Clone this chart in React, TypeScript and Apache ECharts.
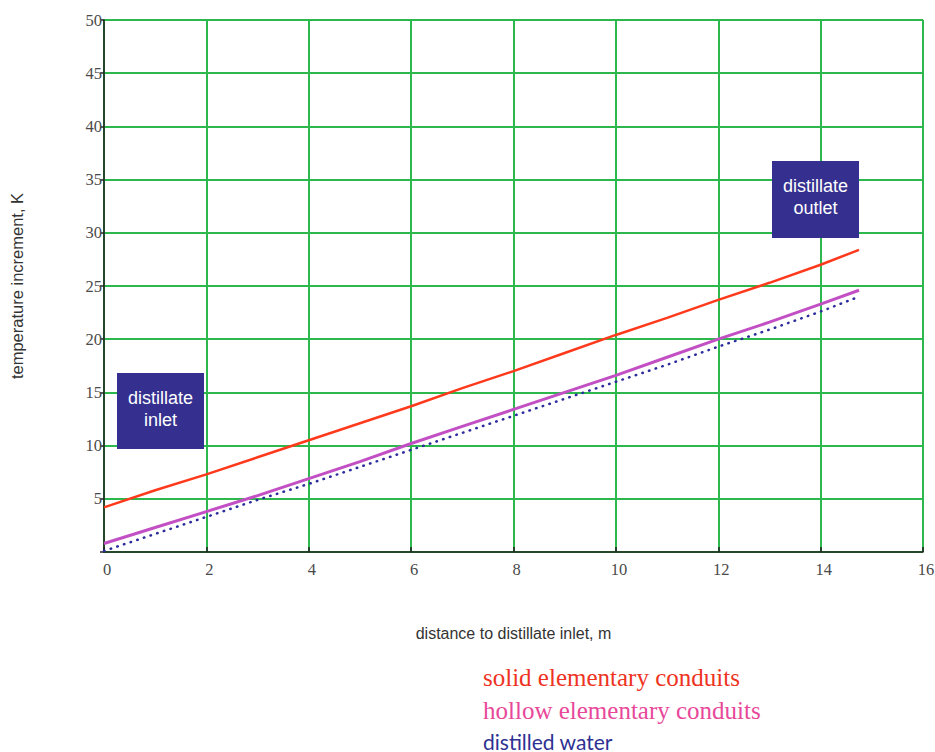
import React, { useEffect, useRef } from "react";
import * as echarts from "echarts";

const distance = [0, 1, 2, 3, 4, 5, 6, 7, 8, 9, 10, 11, 12, 13, 14, 14.75];
const solidConduits = [4.2, 5.8, 7.3, 8.9, 10.5, 12.1, 13.7, 15.4, 17.0, 18.7, 20.4, 22.0, 23.7, 25.3, 27.0, 28.4];
const hollowConduits = [0.8, 2.3, 3.8, 5.3, 6.9, 8.5, 10.2, 11.8, 13.4, 15.0, 16.6, 18.3, 20.0, 21.6, 23.3, 24.6];
const distilledWater = [0.1, 1.7, 3.3, 4.9, 6.4, 8.0, 9.6, 11.2, 12.8, 14.4, 16.0, 17.6, 19.3, 20.9, 22.6, 24.0];

const seriesNames = ["solid elementary conduits", "hollow elementary conduits", "distilled water"];

const pairs = (ys: number[]) => distance.map((x, i) => [x, ys[i]]);

export default function App() {
  const ref = useRef<HTMLDivElement>(null);
  useEffect(() => {
    if (!ref.current) return;
    const chart = echarts.init(ref.current, null, { renderer: "svg" });
    const tickFont = { fontFamily: "Liberation Serif", fontSize: 16.5, color: "#4a4a4a" };
    const boxText = (text: string) => ({
      type: "text",
      x: 43.5,
      y: 36,
      z: 101,
      style: {
        text,
        fill: "#fff",
        font: "18px 'Liberation Sans'",
        align: "center",
        verticalAlign: "middle",
        lineHeight: 22,
      },
    });
    chart.setOption({
      animation: false,
      backgroundColor: "#fff",
      grid: {
        left: 104,
        right: 12,
        top: 20,
        bottom: 200,
        containLabel: false,
        outerBoundsMode: "none",
      },
      xAxis: {
        type: "value",
        min: 0,
        max: 16,
        interval: 2,
        name: "distance to distillate inlet, m",
        nameLocation: "middle",
        nameGap: 73,
        nameTextStyle: { fontFamily: "Liberation Sans", fontSize: 16, color: "#333" },
        axisLine: { lineStyle: { color: "#222", width: 1.5 } },
        axisTick: { inside: true, length: 5, lineStyle: { color: "#222", width: 1.5 } },
        axisLabel: { ...tickFont, margin: 9, padding: [0, 0, 0, 6] },
        splitLine: { show: true, lineStyle: { color: "#2db84d", width: 2 } },
      },
      yAxis: {
        type: "value",
        min: 0,
        max: 50,
        interval: 5,
        name: "temperature increment, K",
        nameLocation: "middle",
        nameGap: 79,
        nameTextStyle: { fontFamily: "Liberation Sans", fontSize: 16.5, color: "#333" },
        axisLine: { show: true, lineStyle: { color: "#222", width: 1.5 } },
        axisTick: { show: true, inside: false, length: 4, lineStyle: { color: "#222", width: 1.5 } },
        axisLabel: {
          ...tickFont,
          margin: 2,
          formatter: (v: number) => (v === 0 ? "" : String(v)),
        },
        splitLine: { show: true, lineStyle: { color: "#2db84d", width: 2 } },
      },
      series: [
        {
          name: seriesNames[0],
          type: "line",
          data: pairs(solidConduits),
          showSymbol: false,
          z: 3,
          lineStyle: { color: "#ff3a1c", width: 2.5 },
        },
        {
          name: seriesNames[1],
          type: "line",
          data: pairs(hollowConduits),
          showSymbol: false,
          z: 4,
          lineStyle: { color: "#c24fc4", width: 3 },
        },
        {
          name: seriesNames[2],
          type: "line",
          data: pairs(distilledWater),
          showSymbol: false,
          z: 2,
          lineStyle: { color: "#2b2b9c", width: 2.5, type: [0.5, 6.5], cap: "round" },
        },
      ],
      graphic: [
        {
          type: "group",
          x: 117,
          y: 373,
          z: 100,
          children: [
            { type: "rect", z: 100, shape: { x: 0, y: 0, width: 87, height: 76 }, style: { fill: "#35308f" } },
            boxText("distillate\ninlet"),
          ],
        },
        {
          type: "group",
          x: 772,
          y: 161,
          z: 100,
          children: [
            { type: "rect", z: 100, shape: { x: 0, y: 0, width: 87, height: 77 }, style: { fill: "#35308f" } },
            boxText("distillate\noutlet"),
          ],
        },
        {
          type: "text",
          x: 483,
          y: 677,
          style: { text: seriesNames[0], fill: "#ee3322", font: "25px 'Liberation Serif'", verticalAlign: "middle" },
        },
        {
          type: "text",
          x: 483,
          y: 710,
          style: { text: seriesNames[1], fill: "#e8489a", font: "25px 'Liberation Serif'", verticalAlign: "middle" },
        },
        {
          type: "text",
          x: 483,
          y: 741,
          style: { text: seriesNames[2], fill: "#2e3192", font: "21px Lato", verticalAlign: "middle" },
        },
      ],
    });
    return () => chart.dispose();
  }, []);
  return (
    <div
      ref={ref}
      style={{ position: "absolute", left: 0, top: 0, width: 935, height: 752, overflow: "hidden" }}
    />
  );
}
